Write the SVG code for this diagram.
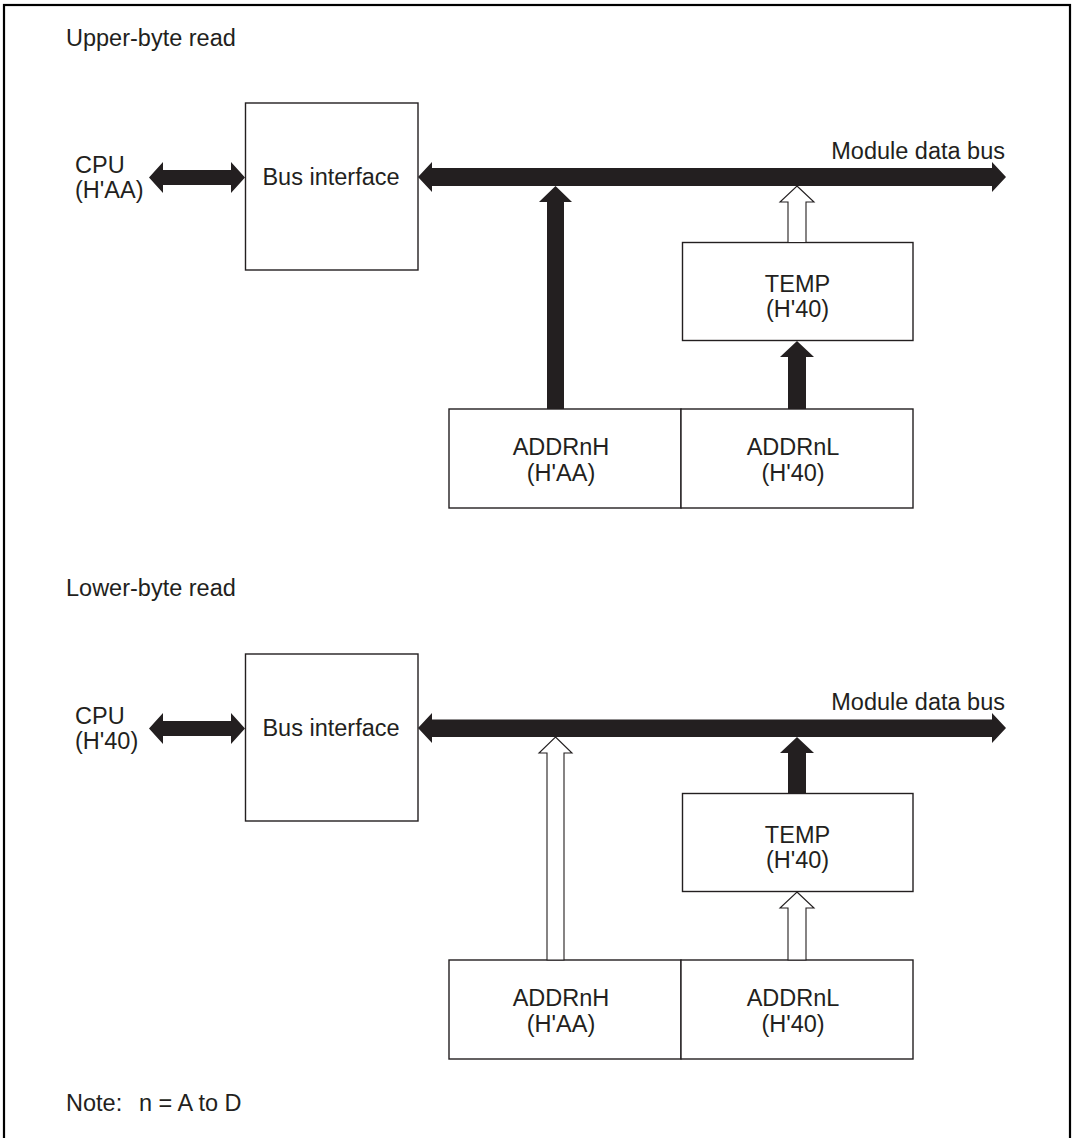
<svg xmlns="http://www.w3.org/2000/svg" width="1073" height="1138" viewBox="0 0 1073 1138">
<style>
text{font-family:"Liberation Sans",Arial,sans-serif;font-size:23.5px;fill:#231f20}
.box{fill:#fff;stroke:#231f20;stroke-width:1.4}
.blk{fill:#231f20;stroke:none}
.wht{fill:#fff;stroke:#231f20;stroke-width:1.1}
.mid{text-anchor:middle}
</style>
<rect x="0" y="0" width="1073" height="1138" fill="#fff"/>
<rect x="4" y="5" width="1066" height="1160" fill="none" stroke="#000" stroke-width="2.2"/>
<text x="66" y="46">Upper-byte read</text>
<text x="66" y="596">Lower-byte read</text>
<text x="66" y="1111">Note:</text>
<text x="139" y="1111">n = A to D</text>

<g id="upper">
<g id="u-bus-interface"><rect class="box" x="245.5" y="103" width="172.5" height="167"/><text class="mid" x="331" y="185">Bus interface</text></g>
<g id="u-cpu"><text x="75" y="173">CPU</text><text x="75" y="198">(H'AA)</text></g>
<g id="u-temp"><rect class="box" x="682.5" y="242.5" width="230.5" height="98"/><text class="mid" x="797.5" y="292">TEMP</text><text class="mid" x="797.5" y="317">(H'40)</text></g>
<g id="u-addrh"><rect class="box" x="449" y="409" width="232" height="99"/><text class="mid" x="561" y="455">ADDRnH</text><text class="mid" x="561" y="481">(H'AA)</text></g>
<g id="u-addrl"><rect class="box" x="681" y="409" width="232" height="99"/><text class="mid" x="793" y="455">ADDRnL</text><text class="mid" x="793" y="481">(H'40)</text></g>
<text x="1005" y="159" text-anchor="end">Module data bus</text>
<g id="u-connectors">
<polygon class="blk" points="149,177.5 163,162 163,170 231,170 231,162 245,177.5 231,193 231,185 163,185 163,193"/>
<polygon class="blk" points="418,177 432,162 432,168 992,168 992,162 1006,177 992,192 992,186 432,186 432,192"/>
<polygon class="blk" points="555.5,186 572,202 564,202 564,409 547,409 547,202 539,202"/>
<polygon class="wht" points="797,186 814,202 806,202 806,242.5 788,242.5 788,202 780,202"/>
<polygon class="blk" points="797,341 814,357 806,357 806,409 788,409 788,357 780,357"/>
</g>
</g>

<g id="lower">
<g id="l-bus-interface"><rect class="box" x="245.5" y="654" width="172.5" height="167"/><text class="mid" x="331" y="736">Bus interface</text></g>
<g id="l-cpu"><text x="75" y="724">CPU</text><text x="75" y="749">(H'40)</text></g>
<g id="l-temp"><rect class="box" x="682.5" y="793.5" width="230.5" height="98"/><text class="mid" x="797.5" y="843">TEMP</text><text class="mid" x="797.5" y="868">(H'40)</text></g>
<g id="l-addrh"><rect class="box" x="449" y="960" width="232" height="99"/><text class="mid" x="561" y="1006">ADDRnH</text><text class="mid" x="561" y="1032">(H'AA)</text></g>
<g id="l-addrl"><rect class="box" x="681" y="960" width="232" height="99"/><text class="mid" x="793" y="1006">ADDRnL</text><text class="mid" x="793" y="1032">(H'40)</text></g>
<text x="1005" y="710" text-anchor="end">Module data bus</text>
<g id="l-connectors">
<polygon class="blk" points="149,728.5 163,713 163,721 231,721 231,713 245,728.5 231,744 231,736 163,736 163,744"/>
<polygon class="blk" points="418,728 432,713 432,719.5 992,719.5 992,713 1006,728 992,743 992,737 432,737 432,743"/>
<polygon class="wht" points="555.5,737 572,753 564,753 564,960 547,960 547,753 539,753"/>
<polygon class="blk" points="797,737 814,753 806,753 806,793.5 788,793.5 788,753 780,753"/>
<polygon class="wht" points="797,892 814,908 806,908 806,960 788,960 788,908 780,908"/>
</g>
</g>
</svg>
